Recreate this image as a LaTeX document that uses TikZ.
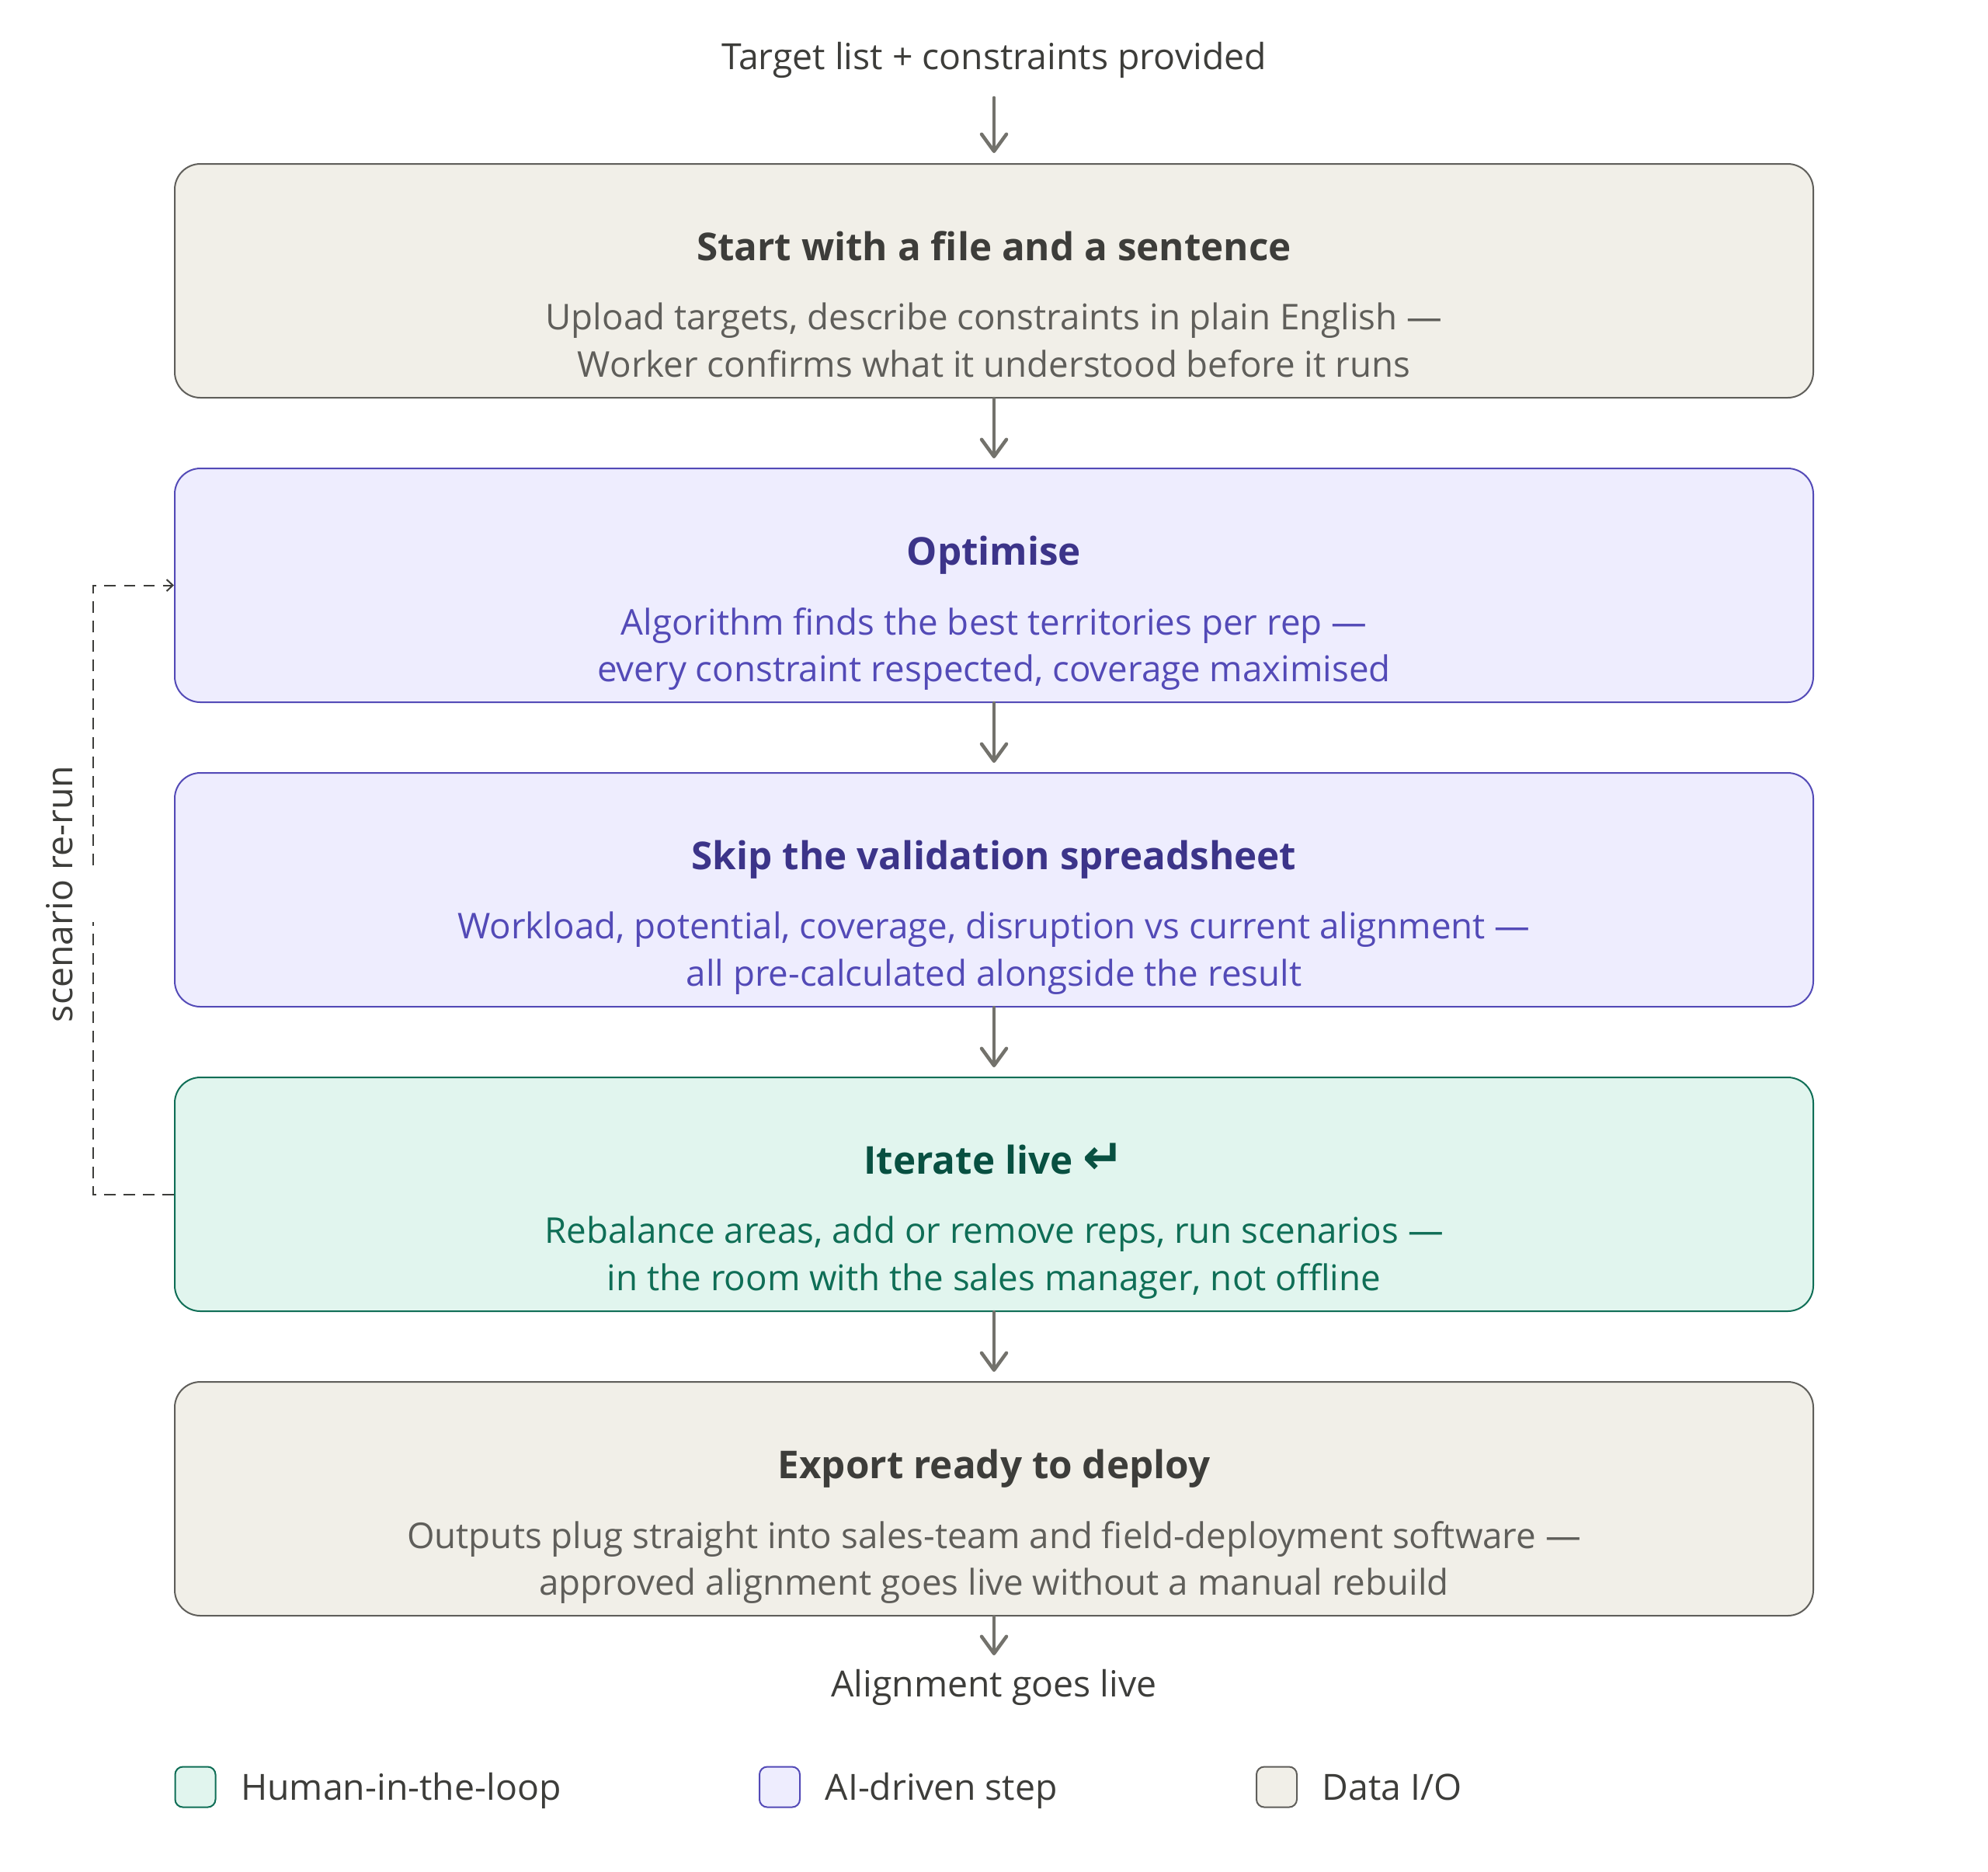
\documentclass[tikz,border=0pt]{standalone}
\usepackage{fontspec}
\setmainfont{Open Sans}
\newfontfamily\arrowfont{DejaVu Sans}
\usetikzlibrary{positioning,arrows.meta}

\definecolor{ioFill}{HTML}{F1EFE8}
\definecolor{ioLine}{HTML}{5F5E5A}
\definecolor{ioTitle}{HTML}{3D3D3A}
\definecolor{ioText}{HTML}{5F5E5A}
\definecolor{aiFill}{HTML}{EEEDFE}
\definecolor{aiLine}{HTML}{534AB7}
\definecolor{aiTitle}{HTML}{3C3489}
\definecolor{aiText}{HTML}{534AB7}
\definecolor{huFill}{HTML}{E1F5EE}
\definecolor{huLine}{HTML}{0F6E56}
\definecolor{huTitle}{HTML}{085041}
\definecolor{huText}{HTML}{0F6E56}
\definecolor{flowGray}{HTML}{73726C}
\definecolor{labelGray}{HTML}{3D3D3A}

\tikzset{
  box/.style={rounded corners=0.33cm, minimum width=21.1cm, minimum height=3.01cm, line width=0.02cm, inner sep=0pt},
  iobox/.style={box, draw=ioLine, fill=ioFill},
  aibox/.style={box, draw=aiLine, fill=aiFill},
  hubox/.style={box, draw=huLine, fill=huFill},
  ttl/.style={anchor=base, inner sep=0pt, font=\fontsize{14.05}{17}\selectfont\bfseries},
  body/.style={anchor=north, inner sep=0pt, align=center, font=\fontsize{13}{17.2}\selectfont},
  plain/.style={inner sep=0pt, text=labelGray, font=\fontsize{13.2}{15}\selectfont},
  legtext/.style={plain, text height=0.38cm, text depth=0.04cm},
  flow/.style={draw=flowGray, line width=0.045cm, line cap=round,
    -{Straight Barb[length=0.22cm, width=0.32cm, line cap=round, line join=round]}},
  loop/.style={draw=labelGray, line width=0.02cm, dash pattern=on 0.15cm off 0.1cm},
  legsq/.style={rounded corners=0.1cm, minimum size=0.52cm, line width=0.02cm, inner sep=0pt},
}

\begin{document}
\begin{tikzpicture}
    \useasboundingbox (0,0) rectangle (25.6,-24.09);

    % Input and output labels
    \node[plain] (target) at (12.8,-0.77) {Target list + constraints provided};

    % Steps
    \node[iobox] (start) at (12.8,-3.615) {};
    \node[aibox, below=0.89cm of start] (optim) {};
    \node[aibox, below=0.89cm of optim] (skip) {};
    \node[hubox, below=0.89cm of skip] (iter) {};
    \node[iobox, below=0.89cm of iter] (export) {};

    \node[plain, below=0.68cm of export] (live) {Alignment goes live};

    % Step texts
    \node[ttl, text=ioTitle] (start-t) at ([yshift=0.26cm]start.center) {Start with a file and a sentence};
    \node[body, text=ioText] (start-b) at ([yshift=-0.28cm]start.center)
        {Upload targets, describe constraints in plain English —\\Worker confirms what it understood before it runs};

    \node[ttl, text=aiTitle] (optim-t) at ([yshift=0.26cm]optim.center) {Optimise};
    \node[body, text=aiText] (optim-b) at ([yshift=-0.28cm]optim.center)
        {Algorithm finds the best territories per rep —\\every constraint respected, coverage maximised};

    \node[ttl, text=aiTitle] (skip-t) at ([yshift=0.26cm]skip.center) {Skip the validation spreadsheet};
    \node[body, text=aiText] (skip-b) at ([yshift=-0.28cm]skip.center)
        {Workload, potential, coverage, disruption vs current alignment —\\all pre-calculated alongside the result};

    \node[ttl, text=huTitle] (iter-t) at ([yshift=0.26cm]iter.center) {Iterate live {\arrowfont\bfseries\fontsize{18}{18}\selectfont ↵}};
    \node[body, text=huText] (iter-b) at ([yshift=-0.28cm]iter.center)
        {Rebalance areas, add or remove reps, run scenarios —\\in the room with the sales manager, not offline};

    \node[ttl, text=ioTitle] (export-t) at ([yshift=0.26cm]export.center) {Export ready to deploy};
    \node[body, text=ioText] (export-b) at ([yshift=-0.28cm]export.center)
        {Outputs plug straight into sales-team and field-deployment software —\\approved alignment goes live without a manual rebuild};

    % Main flow
    \draw[flow, shorten <=0.25cm, shorten >=0.13cm] (target) -- (start);
    \draw[flow, shorten >=0.12cm] (start) -- (optim);
    \draw[flow, shorten >=0.12cm] (optim) -- (skip);
    \draw[flow, shorten >=0.12cm] (skip) -- (iter);
    \draw[flow, shorten >=0.12cm] (iter) -- (export);
    \draw[flow, shorten >=0.18cm] (export) -- (live);

    % Scenario loop
    \coordinate (gap-b) at (1.2,-11.87);
    \coordinate (gap-t) at (1.2,-11.14);
    \draw[loop] (iter.west) -- (iter.west -| gap-b) -- (gap-b);
    \draw[loop, -{Straight Barb[length=0.08cm, width=0.15cm]}] (gap-t) -- (gap-t |- optim.west) -- (optim.west);
    \node[plain, rotate=90] (rerun) at (0.77,-11.51) {scenario re-run};

    % Legend
    \node[legsq, draw=huLine, fill=huFill] (leg-hu) at (2.515,-23.005) {};
    \node[legtext, right=0.31cm of leg-hu] (leg-hu-t) {Human-in-the-loop};
    \node[legsq, draw=aiLine, fill=aiFill] (leg-ai) at (10.04,-23.005) {};
    \node[legtext, right=0.31cm of leg-ai] (leg-ai-t) {AI-driven step};
    \node[legsq, draw=ioLine, fill=ioFill] (leg-io) at (16.44,-23.005) {};
    \node[legtext, right=0.31cm of leg-io] (leg-io-t) {Data I/O};
\end{tikzpicture}
\end{document}
